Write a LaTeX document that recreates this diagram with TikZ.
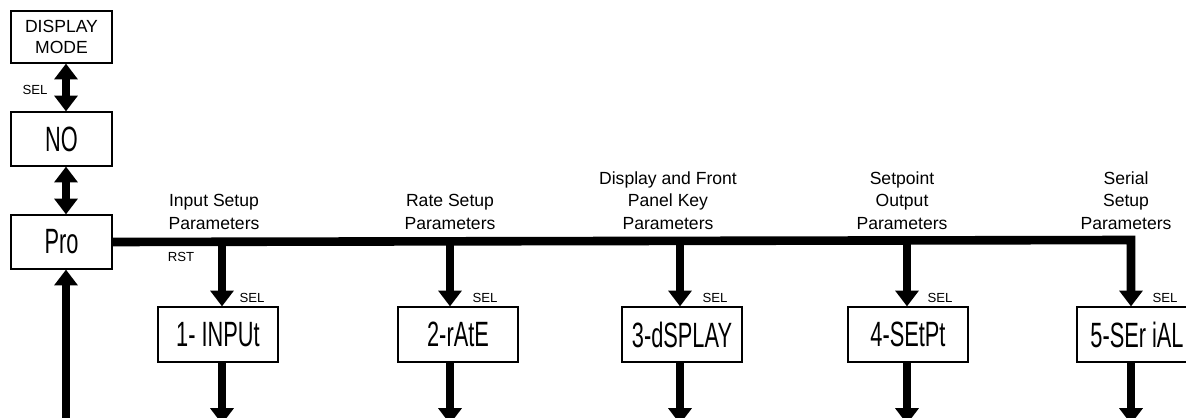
\documentclass[tikz,border=0pt]{standalone}
\usepackage{fontspec}
\setmainfont{Liberation Sans}
\newfontfamily\lcdfont[FakeStretch=0.62]{Liberation Sans}
\usetikzlibrary{arrows.meta}

\begin{document}
\begin{tikzpicture}[
  x=0.02cm, y=-0.02cm,
  >={Triangle[length=9pt, width=13pt]},
  box/.style={draw, line width=0.7pt, inner sep=0pt, align=center,
              font=\fontsize{10}{12}\selectfont},
  lbox/.style={box, minimum width=2.02cm, minimum height=1.08cm,
               font=\lcdfont\fontsize{20}{20}\selectfont},
  pbox/.style={box, minimum width=2.4cm, minimum height=1.1cm,
               font=\lcdfont\fontsize{20}{20}\selectfont},
  ar/.style={line width=4.9pt, ->},
  dar/.style={line width=4.2pt, <->},
  key/.style={font=\fontsize{7.5}{8}\selectfont, inner sep=0pt},
  grp/.style={align=center, inner sep=0pt, anchor=south,
              font=\fontsize{10}{12.8}\selectfont},
]
\useasboundingbox (0,0) rectangle (1186,418);
\clip (0,0) rectangle (1186,418);

\node[box, minimum width=2.02cm, minimum height=1.04cm] (dmode) at (61.5,37) {DISPLAY\\MODE};
\node[lbox] (nomode) at (61.5,139) {NO};
\node[lbox] (pro) at (61.5,242) {Pro};

\node[pbox] (input)  at (218,334.5)  {1- INPUt};
\node[pbox] (rate)   at (458,334.5)  {2-rAtE};
\node[pbox] (disp)   at (682,334.5)  {3-dSPLAY};
\node[pbox] (setpt)  at (908,334.5)  {4-SEtPt};
\node[pbox] (serial) at (1137,334.5) {5-SEr iAL};

% taps on the bus
\coordinate (t1) at (222,240);
\coordinate (t2) at (450,240);
\coordinate (t3) at (680,240);
\coordinate (t4) at (907,240);
\coordinate (t5) at (1131,240);
% loose ends at the bottom
\coordinate (e1) at (222,424);
\coordinate (e2) at (450,424);
\coordinate (e3) at (680,424);
\coordinate (e4) at (907,424);
\coordinate (e5) at (1131,424);
\coordinate (back) at (66,430);

\draw[dar] (dmode.south -| back) -- (nomode.north -| back);
\draw[dar] (nomode.south -| back) -- (pro.north -| back);
\draw[ar] (back) -- (back |- pro.south);

\draw[ar] (pro.east) -- (t5) -- (t5 |- serial.north);
\draw[ar] (t1) -- (t1 |- input.north);
\draw[ar] (t2) -- (t2 |- rate.north);
\draw[ar] (t3) -- (t3 |- disp.north);
\draw[ar] (t4) -- (t4 |- setpt.north);

\draw[ar] (input.south -| e1) -- (e1);
\draw[ar] (rate.south -| e2) -- (e2);
\draw[ar] (disp.south -| e3) -- (e3);
\draw[ar] (setpt.south -| e4) -- (e4);
\draw[ar] (serial.south -| e5) -- (e5);

\node[key] (sel0) at (35,90) {SEL};
\node[key] (rst) at (181,257) {RST};
\node[key] (sel1) at (252,298) {SEL};
\node[key] (sel2) at (485,298) {SEL};
\node[key] (sel3) at (715,298) {SEL};
\node[key] (sel4) at (940,298) {SEL};
\node[key] (sel5) at (1165,298) {SEL};

\node[grp] (ginput)  at (214,230)  {Input Setup\\Parameters};
\node[grp] (grate)   at (450,230)  {Rate Setup\\Parameters};
\node[grp] (gdisp)   at (668,230)  {Display and Front\\Panel Key\\Parameters};
\node[grp] (gsetpt)  at (902,230)  {Setpoint\\Output\\Parameters};
\node[grp] (gserial) at (1126,230) {Serial\\Setup\\Parameters};
\end{tikzpicture}
\end{document}
